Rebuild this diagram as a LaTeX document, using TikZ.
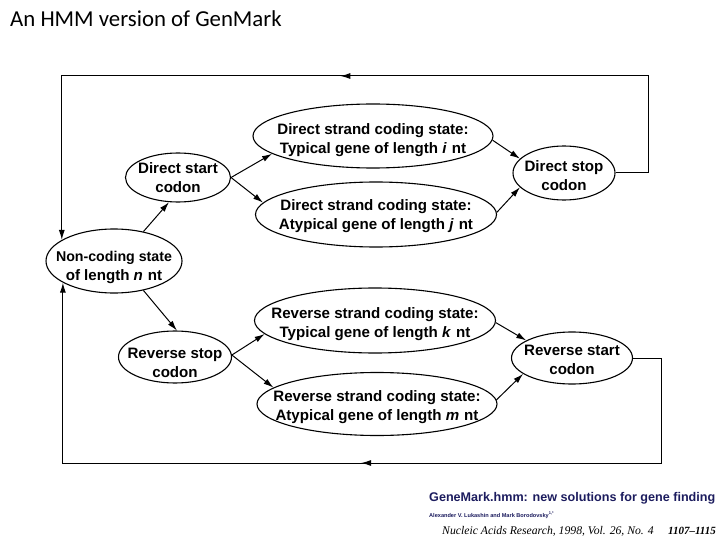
\documentclass[tikz,border=0pt]{standalone}
\usepackage{fontspec}
\setmainfont{Liberation Sans}
\newfontfamily\titlefont{Carlito}
\newfontfamily\citeserif{Liberation Serif}
\usetikzlibrary{shapes.geometric,arrows.meta,decorations.markings}
\definecolor{navy}{HTML}{1C1C5E}
\begin{document}
\begin{tikzpicture}[x=1pt,y=-1pt,
  stext/.style={align=center,inner sep=0pt,font=\bfseries\fontsize{15.1}{19}\selectfont},
  state/.style n args={4}{ellipse,draw,line width=1.1pt,minimum width=#1,minimum height=#2,inner sep=0pt,
     label={[stext,yshift=-#3]center:{#4}}},
  arr/.style={line width=1pt,-{Latex[length=10pt,width=6pt]}},
  loop/.style={line width=1pt,-{Latex[length=10pt,width=6pt]},postaction={decorate},
     decoration={markings,mark=at position #1 with {\arrow{Latex[length=10pt,width=6pt]}}}}]
\useasboundingbox (0,0) rectangle (720,540);
\node[anchor=base west,inner sep=0pt,font=\titlefont\fontsize{22.8}{26}\selectfont] (title) at (10,27) {An HMM version of GenMark};

\node[state={240pt}{64pt}{4pt}{Direct strand coding state:\\Typical gene of length \textit{i}\hspace{5pt}nt}] (dt) at (373,136) {};
\node[state={241pt}{65pt}{1.5pt}{Direct strand coding state:\\Atypical gene of length \textit{j}\hspace{5pt}nt}] (da) at (376,214.5) {};
\node[state={105pt}{49pt}{0pt}{Direct start\\codon}] (ds) at (178,177.5) {};
\node[state={136pt}{64pt}{6.5pt}{\fontsize{14.2}{18.5}\selectfont Non-coding state\\of length \textit{n}\hspace{5pt}nt}] (nc) at (114,261) {};
\node[state={102pt}{54pt}{3pt}{Direct stop\\codon}] (dp) at (564,173) {};
\node[state={241pt}{65pt}{3.5pt}{Reverse strand coding state:\\Typical gene of length \textit{k}\hspace{5pt}nt}] (rt) at (375,320.5) {};
\node[state={240pt}{63pt}{3pt}{Reverse strand coding state:\\Atypical gene of length \textit{m}\hspace{5pt}nt}] (ra) at (377,404) {};
\node[state={113pt}{52pt}{6pt}{Reverse stop\\codon}] (rs) at (175,357) {};
\node[state={121pt}{52pt}{2pt}{Reverse start\\codon}] (rst) at (572,358) {};

\draw[arr] (nc.45) -- (ds.250);
\draw[arr] (ds.0) -- (dt.190);
\draw[arr] (ds.0) -- (da.174);
\draw[arr] (dt.358) -- (dp.162);
\draw[arr] (da.1) -- (dp.198);
\draw[arr] (nc.315) -- (rs.86);
\draw[arr] (rs.2) -- (rt.187);
\draw[arr] (rs.2) -- (ra.171);
\draw[arr] (rt.359) -- (rst.159);
\draw[arr] (ra.2) -- (rst.198);

\coordinate (tr) at (648,76);
\coordinate (br) at (661,463);
\draw[loop=0.497] (dp.east) -| (tr) -| (nc.158);
\draw[loop=0.475] (rst.east) -| (br) -| (nc.203);

\node[anchor=base west,inner sep=0pt,text=navy,font=\bfseries\fontsize{12.6}{14}\selectfont] (c1) at (429,501) {GeneMark.hmm: new solutions for gene finding};
\node[anchor=base west,inner sep=0pt,text=navy,font=\bfseries\fontsize{5.6}{7}\selectfont] (c2) at (429,517) {Alexander V. Lukashin and Mark Borodovsky\textsuperscript{1,*}};
\node[anchor=base west,inner sep=0pt,font=\citeserif\itshape\fontsize{11.7}{13}\selectfont] (c3) at (442,534) {Nucleic Acids Research, 1998, Vol. 26, No. 4};
\node[anchor=base west,inner sep=0pt,font=\citeserif\bfseries\itshape\fontsize{11}{13}\selectfont] (c4) at (668,534) {1107–1115};
\end{tikzpicture}
\end{document}
